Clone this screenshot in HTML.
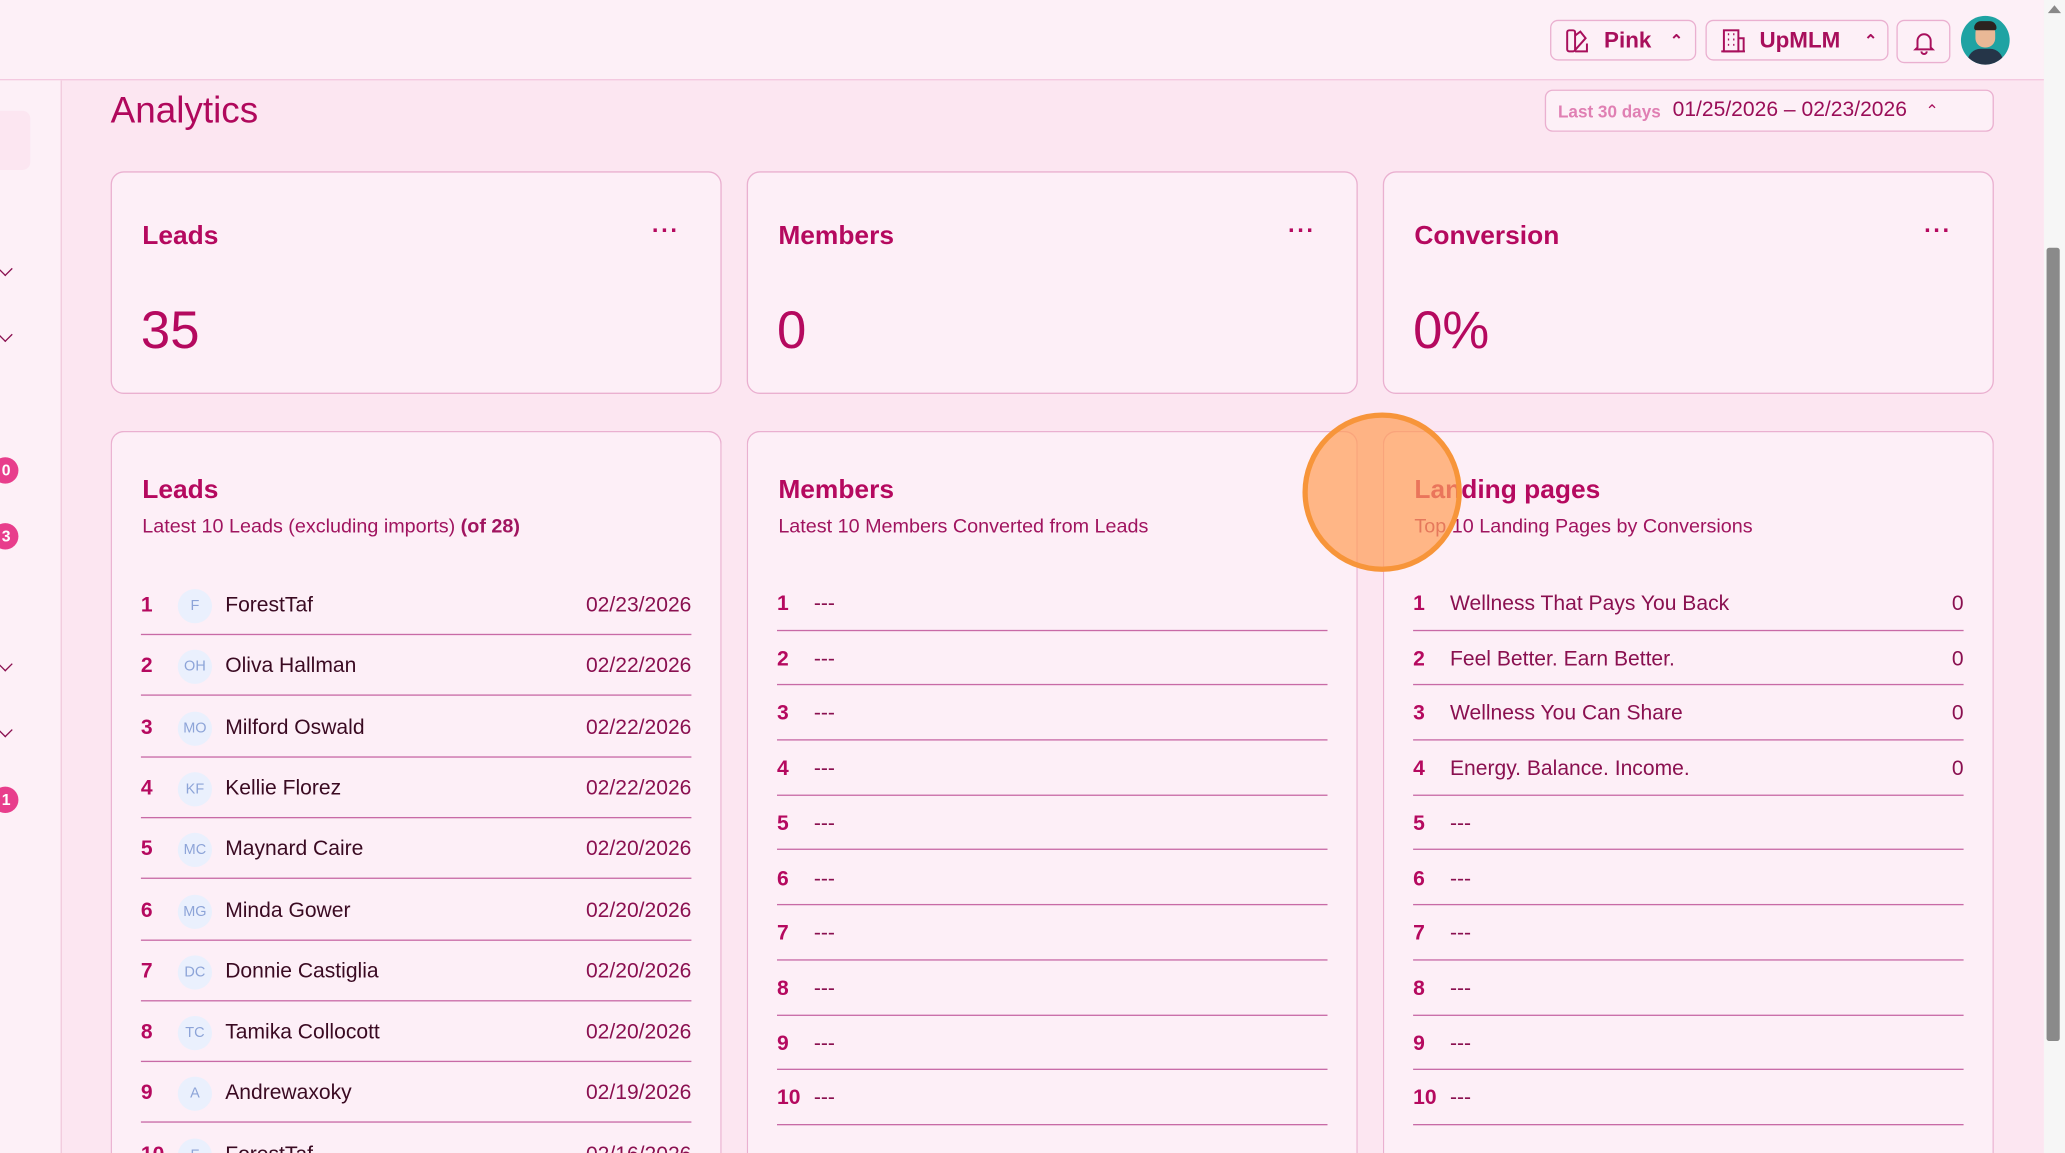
<!DOCTYPE html>
<html><head><meta charset="utf-8"><style>
*{box-sizing:border-box;margin:0;padding:0}
html,body{width:2065px;height:1153px;overflow:hidden;background:#fce6f1}
#s{position:absolute;left:0;top:0;width:1568px;height:875px;transform:scale(1.31696,1.31771);transform-origin:0 0;font-family:"Liberation Sans",sans-serif;color:#b5095f;background:#fce6f1;overflow:hidden}
.a{position:absolute}
.top{left:0;top:0;width:1552px;height:61px;background:#fdf0f7;border-bottom:1px solid #f3c6de}
.side{left:0;top:61px;width:47px;height:814px;background:#fdf0f7;border-right:1px solid #f0c8dc}
.btn{border:1px solid #eab0d0;border-radius:6px;background:#fdf0f7;font-weight:bold;font-size:17px;color:#a80f5c;display:flex;align-items:center}
.card{border:1px solid #eab0d0;border-radius:10px;background:#fdeff7}
.ct{font-weight:bold;font-size:20px;color:#b5095f}
.num{font-size:40px;color:#b5095f}
.dots{font-weight:bold;font-size:18px;letter-spacing:1px}
.sub{font-size:15px;color:#a0145f}
.row{position:absolute;border-bottom:1px solid #c86aa6;font-size:16px}
.n{position:absolute;left:0;font-weight:bold;color:#b5095f}
.av{position:absolute;left:28px;width:26px;height:26px;border-radius:13px;background:#eaf0fd;color:#8da4d8;font-size:11px;text-align:center;line-height:26px}
.badge{width:20px;height:20px;border-radius:10px;background:#e83e8c;color:#fff;font-size:12px;font-weight:bold;line-height:20px;text-align:right;padding-right:6px}
.chev{width:8px;height:8px;border-right:1.3px solid #8a1050;border-bottom:1.3px solid #8a1050;transform:rotate(45deg)}
</style></head><body><div id="s">
<div class="a top"></div>
<div class="a side"></div>
<div class="a" style="left:-10px;top:84px;width:33px;height:45px;background:#fce6f1;border-radius:6px"></div>
<div class="a chev" style="left:0;top:200px"></div>
<div class="a chev" style="left:0;top:250px"></div>
<div class="a chev" style="left:0;top:500px"></div>
<div class="a chev" style="left:0;top:550px"></div>
<div class="a badge" style="left:-6px;top:347px">0</div>
<div class="a badge" style="left:-6px;top:397px">3</div>
<div class="a badge" style="left:-6px;top:597px">1</div>

<div class="a btn" style="left:1177px;top:15px;width:111px;height:31px;padding-left:10px">
<svg width="20" height="20" viewBox="0 0 20 20" fill="none" stroke="#a80f5c" stroke-width="1.5"><rect x="2" y="2" width="6" height="16" rx="1.5"/><path d="M8 6l4-3 4 5-8 9M8 18h9V12"/></svg><span style="margin-left:10px">Pink</span><span style="margin-left:14px;font-size:12px">⌃</span></div>
<div class="a btn" style="left:1295px;top:15px;width:139px;height:31px;padding-left:10px">
<svg width="20" height="20" viewBox="0 0 20 20" fill="none" stroke="#a80f5c" stroke-width="1.5"><rect x="3" y="2" width="11" height="16"/><path d="M14 8h4v10M1 18h18M6 5h1M10 5h1M6 9h1M10 9h1M6 13h1M10 13h1"/></svg><span style="margin-left:10px">UpMLM</span><span style="margin-left:18px;font-size:12px">⌃</span></div>
<div class="a btn" style="left:1440px;top:15px;width:41px;height:33px;justify-content:center">
<svg width="20" height="20" viewBox="0 0 20 20" fill="none" stroke="#a80f5c" stroke-width="1.5"><path d="M5 14V9a5 5 0 0110 0v5l1.5 1.5h-13zM8 17a2 2 0 004 0"/></svg></div>
<div class="a" style="left:1489px;top:12px;width:37px;height:37px;border-radius:50%;background:#1fa3a3;overflow:hidden">
<div class="a" style="left:11px;top:6px;width:15px;height:18px;border-radius:7px;background:#e9b896"></div>
<div class="a" style="left:10px;top:4px;width:17px;height:7px;border-radius:6px 6px 2px 2px;background:#2b2320"></div>
<div class="a" style="left:5px;top:25px;width:27px;height:14px;border-radius:10px 10px 0 0;background:#253548"></div></div>

<div class="a" style="left:1552px;top:0;width:16px;height:875px;background:#f6f6f6"></div>
<div class="a" style="left:1554px;top:188px;width:10px;height:602px;background:#8a8a8a;border-radius:2px"></div>
<div class="a" style="left:1555px;top:4px;width:0;height:0;border-left:5px solid transparent;border-right:5px solid transparent;border-bottom:6px solid #888"></div>

<div class="a" style="left:84px;top:68px;font-size:28px;color:#b0085c">Analytics</div>
<div class="a btn" style="left:1173px;top:68px;width:341px;height:32px;padding-left:9px;font-weight:normal">
<span style="font-size:13px;color:#e07fb3;font-weight:bold">Last 30 days</span><span style="margin-left:9px;font-size:16px;color:#9a0e58">01/25/2026 – 02/23/2026</span><span style="margin-left:14px;font-size:12px">⌃</span></div>

<div class="a card" style="left:84px;top:130px;width:464px;height:169px"><div class="a ct" style="left:23px;top:37px">Leads</div><div class="a dots" style="left:410px;top:34px">···</div><div class="a num" style="left:22px;top:98px">35</div></div>
<div class="a card" style="left:567px;top:130px;width:464px;height:169px"><div class="a ct" style="left:23px;top:37px">Members</div><div class="a dots" style="left:410px;top:34px">···</div><div class="a num" style="left:22px;top:98px">0</div></div>
<div class="a card" style="left:1050px;top:130px;width:464px;height:169px"><div class="a ct" style="left:23px;top:37px">Conversion</div><div class="a dots" style="left:410px;top:34px">···</div><div class="a num" style="left:22px;top:98px">0%</div></div>

<div class="a card" style="left:84px;top:327px;width:464px;height:548px;border-bottom:none;border-radius:10px 10px 0 0"><div class="a ct" style="left:23px;top:33px">Leads</div><div class="a sub" style="left:23px;top:63px">Latest 10 Leads (excluding imports) <b>(of 28)</b></div></div>
<div class="a card" style="left:567px;top:327px;width:464px;height:548px;border-bottom:none;border-radius:10px 10px 0 0"><div class="a ct" style="left:23px;top:33px">Members</div><div class="a sub" style="left:23px;top:63px">Latest 10 Members Converted from Leads</div></div>
<div class="a card" style="left:1050px;top:327px;width:464px;height:548px;border-bottom:none;border-radius:10px 10px 0 0"><div class="a ct" style="left:23px;top:33px">Landing pages</div><div class="a sub" style="left:23px;top:63px">Top 10 Landing Pages by Conversions</div></div>

<div id="leads"></div>
<div class="a" style="left:989px;top:313px;width:121px;height:121px;border-radius:50%;background:rgba(255,160,90,0.72);border:4px solid #f7953a"></div>
</div>
<script>
var L=[["F","ForestTaf","02/23/2026"],["OH","Oliva Hallman","02/22/2026"],["MO","Milford Oswald","02/22/2026"],["KF","Kellie Florez","02/22/2026"],["MC","Maynard Caire","02/20/2026"],["MG","Minda Gower","02/20/2026"],["DC","Donnie Castiglia","02/20/2026"],["TC","Tamika Collocott","02/20/2026"],["A","Andrewaxoky","02/19/2026"],["F","ForestTaf","02/16/2026"]];
var h="";
L.forEach(function(r,i){var y=436+i*46.3;if(y>870)return;h+='<div class="row" style="left:107px;top:'+y+'px;width:418px;height:46px"><span class="n" style="top:15px">'+(i+1)+'</span><span class="av" style="top:11px">'+r[0]+'</span><span class="a" style="left:64px;top:15px;color:#3a0a22">'+r[1]+'</span><span class="a" style="right:0;top:15px;color:#8a1050">'+r[2]+'</span></div>';});
var LP=["Wellness That Pays You Back","Feel Better. Earn Better.","Wellness You Can Share","Energy. Balance. Income."];
for(var i=0;i<10;i++){var y=437+i*41.7;
h+='<div class="row" style="left:590px;top:'+y+'px;width:418px;height:41.7px"><span class="n" style="top:13px">'+(i+1)+'</span><span class="a" style="left:28px;top:13px;color:#8a1050">---</span></div>';
h+='<div class="row" style="left:1073px;top:'+y+'px;width:418px;height:41.7px"><span class="n" style="top:13px">'+(i+1)+'</span><span class="a" style="left:28px;top:13px;color:#8a1050">'+(i<4?LP[i]:'---')+'</span>'+(i<4?'<span class="a" style="right:0;top:13px;color:#8a1050">0</span>':'')+'</div>';}
document.getElementById("leads").outerHTML=h;
</script>
</body></html>
